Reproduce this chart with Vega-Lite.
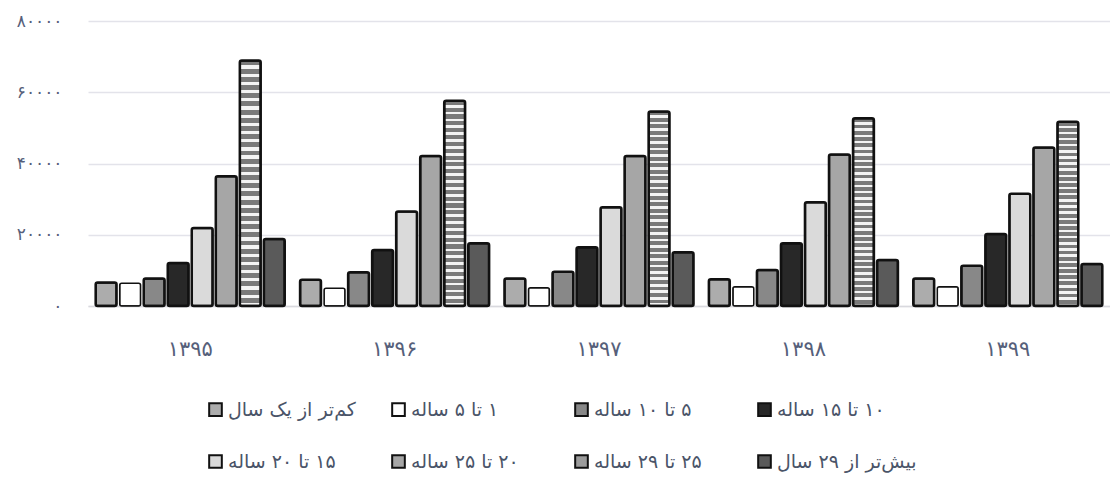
{
  "$schema": "https://vega.github.io/schema/vega-lite/v6.json",
  "autosize": {"type": "none"},
  "padding": {"left": 88, "top": 21, "right": 0, "bottom": 171},
  "width": 1022,
  "height": 285,
  "background": "white",
  "config": {"view": {"stroke": null}, "font": "DejaVu Sans"},
  "data": {"values": [
    {"year": "۱۳۹۵", "cat": "کم‌تر از یک سال", "value": 6600},
    {"year": "۱۳۹۵", "cat": "۱ تا ۵ ساله", "value": 6400},
    {"year": "۱۳۹۵", "cat": "۵ تا ۱۰ ساله", "value": 7700},
    {"year": "۱۳۹۵", "cat": "۱۰ تا ۱۵ ساله", "value": 12100},
    {"year": "۱۳۹۵", "cat": "۱۵ تا ۲۰ ساله", "value": 21900},
    {"year": "۱۳۹۵", "cat": "۲۰ تا ۲۵ ساله", "value": 36400},
    {"year": "۱۳۹۵", "cat": "۲۵ تا ۲۹ ساله", "value": 68900},
    {"year": "۱۳۹۵", "cat": "بیش‌تر از ۲۹ سال", "value": 18800},
    {"year": "۱۳۹۶", "cat": "کم‌تر از یک سال", "value": 7400},
    {"year": "۱۳۹۶", "cat": "۱ تا ۵ ساله", "value": 5000},
    {"year": "۱۳۹۶", "cat": "۵ تا ۱۰ ساله", "value": 9500},
    {"year": "۱۳۹۶", "cat": "۱۰ تا ۱۵ ساله", "value": 15700},
    {"year": "۱۳۹۶", "cat": "۱۵ تا ۲۰ ساله", "value": 26500},
    {"year": "۱۳۹۶", "cat": "۲۰ تا ۲۵ ساله", "value": 42100},
    {"year": "۱۳۹۶", "cat": "۲۵ تا ۲۹ ساله", "value": 57600},
    {"year": "۱۳۹۶", "cat": "بیش‌تر از ۲۹ سال", "value": 17600},
    {"year": "۱۳۹۷", "cat": "کم‌تر از یک سال", "value": 7700},
    {"year": "۱۳۹۷", "cat": "۱ تا ۵ ساله", "value": 5100},
    {"year": "۱۳۹۷", "cat": "۵ تا ۱۰ ساله", "value": 9600},
    {"year": "۱۳۹۷", "cat": "۱۰ تا ۱۵ ساله", "value": 16500},
    {"year": "۱۳۹۷", "cat": "۱۵ تا ۲۰ ساله", "value": 27700},
    {"year": "۱۳۹۷", "cat": "۲۰ تا ۲۵ ساله", "value": 42100},
    {"year": "۱۳۹۷", "cat": "۲۵ تا ۲۹ ساله", "value": 54600},
    {"year": "۱۳۹۷", "cat": "بیش‌تر از ۲۹ سال", "value": 15100},
    {"year": "۱۳۹۸", "cat": "کم‌تر از یک سال", "value": 7500},
    {"year": "۱۳۹۸", "cat": "۱ تا ۵ ساله", "value": 5400},
    {"year": "۱۳۹۸", "cat": "۵ تا ۱۰ ساله", "value": 10100},
    {"year": "۱۳۹۸", "cat": "۱۰ تا ۱۵ ساله", "value": 17600},
    {"year": "۱۳۹۸", "cat": "۱۵ تا ۲۰ ساله", "value": 29100},
    {"year": "۱۳۹۸", "cat": "۲۰ تا ۲۵ ساله", "value": 42500},
    {"year": "۱۳۹۸", "cat": "۲۵ تا ۲۹ ساله", "value": 52700},
    {"year": "۱۳۹۸", "cat": "بیش‌تر از ۲۹ سال", "value": 12900},
    {"year": "۱۳۹۹", "cat": "کم‌تر از یک سال", "value": 7700},
    {"year": "۱۳۹۹", "cat": "۱ تا ۵ ساله", "value": 5400},
    {"year": "۱۳۹۹", "cat": "۵ تا ۱۰ ساله", "value": 11300},
    {"year": "۱۳۹۹", "cat": "۱۰ تا ۱۵ ساله", "value": 20200},
    {"year": "۱۳۹۹", "cat": "۱۵ تا ۲۰ ساله", "value": 31500},
    {"year": "۱۳۹۹", "cat": "۲۰ تا ۲۵ ساله", "value": 44500},
    {"year": "۱۳۹۹", "cat": "۲۵ تا ۲۹ ساله", "value": 51700},
    {"year": "۱۳۹۹", "cat": "بیش‌تر از ۲۹ سال", "value": 11800}
  ]},
  "mark": {"type": "bar", "stroke": "#111111", "cornerRadius": 2},
  "encoding": {
    "x": {
      "field": "year", "type": "nominal",
      "sort": ["۱۳۹۵", "۱۳۹۶", "۱۳۹۷", "۱۳۹۸", "۱۳۹۹"],
      "scale": {"paddingInner": 0.075, "paddingOuter": 0.0375},
      "axis": {"title": null, "ticks": false, "grid": false, "domain": true, "domainColor": "#d9d9de", "domainWidth": 1.5, "labelAngle": 0, "labelPadding": 32, "labelFontSize": 21, "labelColor": "#56607a"}
    },
    "xOffset": {
      "field": "cat", "type": "nominal",
      "sort": ["کم‌تر از یک سال", "۱ تا ۵ ساله", "۵ تا ۱۰ ساله", "۱۰ تا ۱۵ ساله", "۱۵ تا ۲۰ ساله", "۲۰ تا ۲۵ ساله", "۲۵ تا ۲۹ ساله", "بیش‌تر از ۲۹ سال"],
      "scale": {"paddingInner": 0.13, "paddingOuter": 0}
    },
    "y": {
      "field": "value", "type": "quantitative",
      "scale": {"domain": [0, 80000], "nice": false},
      "axis": {
        "title": null, "values": [0, 20000, 40000, 60000, 80000], "domain": false, "ticks": false,
        "labelPadding": 26, "labelFontSize": 17, "labelColor": "#56607a",
        "gridColor": "#e3e3ea", "gridWidth": 1.5,
        "labelExpr": "replace(replace(replace(replace(replace(replace(replace(replace(replace(replace(format(datum.value,'d'),/0/g,'۰'),/1/g,'۱'),/2/g,'۲'),/3/g,'۳'),/4/g,'۴'),/5/g,'۵'),/6/g,'۶'),/7/g,'۷'),/8/g,'۸'),/9/g,'۹')"
      }
    },
    "color": {
      "condition": {
        "test": "datum.cat === '۲۵ تا ۲۹ ساله'",
        "value": {"gradient": "linear", "x1": 0, "y1": 0, "x2": 0, "y2": 1, "stops": [
          {"offset": 0, "color": "#7a7a7a"}, {"offset": 0.02, "color": "#7a7a7a"}, {"offset": 0.02, "color": "#f4f4f4"}, {"offset": 0.0333, "color": "#f4f4f4"},
          {"offset": 0.0333, "color": "#7a7a7a"}, {"offset": 0.0533, "color": "#7a7a7a"}, {"offset": 0.0533, "color": "#f4f4f4"}, {"offset": 0.0667, "color": "#f4f4f4"},
          {"offset": 0.0667, "color": "#7a7a7a"}, {"offset": 0.0867, "color": "#7a7a7a"}, {"offset": 0.0867, "color": "#f4f4f4"}, {"offset": 0.1, "color": "#f4f4f4"},
          {"offset": 0.1, "color": "#7a7a7a"}, {"offset": 0.12, "color": "#7a7a7a"}, {"offset": 0.12, "color": "#f4f4f4"}, {"offset": 0.1333, "color": "#f4f4f4"},
          {"offset": 0.1333, "color": "#7a7a7a"}, {"offset": 0.1533, "color": "#7a7a7a"}, {"offset": 0.1533, "color": "#f4f4f4"}, {"offset": 0.1667, "color": "#f4f4f4"},
          {"offset": 0.1667, "color": "#7a7a7a"}, {"offset": 0.1867, "color": "#7a7a7a"}, {"offset": 0.1867, "color": "#f4f4f4"}, {"offset": 0.2, "color": "#f4f4f4"},
          {"offset": 0.2, "color": "#7a7a7a"}, {"offset": 0.22, "color": "#7a7a7a"}, {"offset": 0.22, "color": "#f4f4f4"}, {"offset": 0.2333, "color": "#f4f4f4"},
          {"offset": 0.2333, "color": "#7a7a7a"}, {"offset": 0.2533, "color": "#7a7a7a"}, {"offset": 0.2533, "color": "#f4f4f4"}, {"offset": 0.2667, "color": "#f4f4f4"},
          {"offset": 0.2667, "color": "#7a7a7a"}, {"offset": 0.2867, "color": "#7a7a7a"}, {"offset": 0.2867, "color": "#f4f4f4"}, {"offset": 0.3, "color": "#f4f4f4"},
          {"offset": 0.3, "color": "#7a7a7a"}, {"offset": 0.32, "color": "#7a7a7a"}, {"offset": 0.32, "color": "#f4f4f4"}, {"offset": 0.3333, "color": "#f4f4f4"},
          {"offset": 0.3333, "color": "#7a7a7a"}, {"offset": 0.3533, "color": "#7a7a7a"}, {"offset": 0.3533, "color": "#f4f4f4"}, {"offset": 0.3667, "color": "#f4f4f4"},
          {"offset": 0.3667, "color": "#7a7a7a"}, {"offset": 0.3867, "color": "#7a7a7a"}, {"offset": 0.3867, "color": "#f4f4f4"}, {"offset": 0.4, "color": "#f4f4f4"},
          {"offset": 0.4, "color": "#7a7a7a"}, {"offset": 0.42, "color": "#7a7a7a"}, {"offset": 0.42, "color": "#f4f4f4"}, {"offset": 0.4333, "color": "#f4f4f4"},
          {"offset": 0.4333, "color": "#7a7a7a"}, {"offset": 0.4533, "color": "#7a7a7a"}, {"offset": 0.4533, "color": "#f4f4f4"}, {"offset": 0.4667, "color": "#f4f4f4"},
          {"offset": 0.4667, "color": "#7a7a7a"}, {"offset": 0.4867, "color": "#7a7a7a"}, {"offset": 0.4867, "color": "#f4f4f4"}, {"offset": 0.5, "color": "#f4f4f4"},
          {"offset": 0.5, "color": "#7a7a7a"}, {"offset": 0.52, "color": "#7a7a7a"}, {"offset": 0.52, "color": "#f4f4f4"}, {"offset": 0.5333, "color": "#f4f4f4"},
          {"offset": 0.5333, "color": "#7a7a7a"}, {"offset": 0.5533, "color": "#7a7a7a"}, {"offset": 0.5533, "color": "#f4f4f4"}, {"offset": 0.5667, "color": "#f4f4f4"},
          {"offset": 0.5667, "color": "#7a7a7a"}, {"offset": 0.5867, "color": "#7a7a7a"}, {"offset": 0.5867, "color": "#f4f4f4"}, {"offset": 0.6, "color": "#f4f4f4"},
          {"offset": 0.6, "color": "#7a7a7a"}, {"offset": 0.62, "color": "#7a7a7a"}, {"offset": 0.62, "color": "#f4f4f4"}, {"offset": 0.6333, "color": "#f4f4f4"},
          {"offset": 0.6333, "color": "#7a7a7a"}, {"offset": 0.6533, "color": "#7a7a7a"}, {"offset": 0.6533, "color": "#f4f4f4"}, {"offset": 0.6667, "color": "#f4f4f4"},
          {"offset": 0.6667, "color": "#7a7a7a"}, {"offset": 0.6867, "color": "#7a7a7a"}, {"offset": 0.6867, "color": "#f4f4f4"}, {"offset": 0.7, "color": "#f4f4f4"},
          {"offset": 0.7, "color": "#7a7a7a"}, {"offset": 0.72, "color": "#7a7a7a"}, {"offset": 0.72, "color": "#f4f4f4"}, {"offset": 0.7333, "color": "#f4f4f4"},
          {"offset": 0.7333, "color": "#7a7a7a"}, {"offset": 0.7533, "color": "#7a7a7a"}, {"offset": 0.7533, "color": "#f4f4f4"}, {"offset": 0.7667, "color": "#f4f4f4"},
          {"offset": 0.7667, "color": "#7a7a7a"}, {"offset": 0.7867, "color": "#7a7a7a"}, {"offset": 0.7867, "color": "#f4f4f4"}, {"offset": 0.8, "color": "#f4f4f4"},
          {"offset": 0.8, "color": "#7a7a7a"}, {"offset": 0.82, "color": "#7a7a7a"}, {"offset": 0.82, "color": "#f4f4f4"}, {"offset": 0.8333, "color": "#f4f4f4"},
          {"offset": 0.8333, "color": "#7a7a7a"}, {"offset": 0.8533, "color": "#7a7a7a"}, {"offset": 0.8533, "color": "#f4f4f4"}, {"offset": 0.8667, "color": "#f4f4f4"},
          {"offset": 0.8667, "color": "#7a7a7a"}, {"offset": 0.8867, "color": "#7a7a7a"}, {"offset": 0.8867, "color": "#f4f4f4"}, {"offset": 0.9, "color": "#f4f4f4"},
          {"offset": 0.9, "color": "#7a7a7a"}, {"offset": 0.92, "color": "#7a7a7a"}, {"offset": 0.92, "color": "#f4f4f4"}, {"offset": 0.9333, "color": "#f4f4f4"},
          {"offset": 0.9333, "color": "#7a7a7a"}, {"offset": 0.9533, "color": "#7a7a7a"}, {"offset": 0.9533, "color": "#f4f4f4"}, {"offset": 0.9667, "color": "#f4f4f4"},
          {"offset": 0.9667, "color": "#7a7a7a"}, {"offset": 0.9867, "color": "#7a7a7a"}, {"offset": 0.9867, "color": "#f4f4f4"}, {"offset": 1, "color": "#f4f4f4"}
        ]}
      },
      "field": "cat", "type": "nominal",
      "sort": ["کم‌تر از یک سال", "۱ تا ۵ ساله", "۵ تا ۱۰ ساله", "۱۰ تا ۱۵ ساله", "۱۵ تا ۲۰ ساله", "۲۰ تا ۲۵ ساله", "۲۵ تا ۲۹ ساله", "بیش‌تر از ۲۹ سال"],
      "scale": {
        "domain": ["کم‌تر از یک سال", "۱ تا ۵ ساله", "۵ تا ۱۰ ساله", "۱۰ تا ۱۵ ساله", "۱۵ تا ۲۰ ساله", "۲۰ تا ۲۵ ساله", "۲۵ تا ۲۹ ساله", "بیش‌تر از ۲۹ سال"],
        "range": ["#acacac", "#ffffff", "#888888", "#282828", "#dadada", "#a6a6a6", "#9c9c9c", "#5a5a5a"]
      },
      "legend": {
        "title": null, "orient": "none", "legendX": 118, "legendY": 379,
        "direction": "horizontal", "columns": 4, "gridAlign": "all",
        "symbolType": "square", "symbolSize": 160, "symbolStrokeColor": "#111111", "symbolStrokeWidth": 2,
        "labelFontSize": 19, "labelColor": "#4a5468", "labelOffset": 3, "labelLimit": 400,
        "columnPadding": 20, "rowPadding": 31,
        "labelExpr": "'\u200f' + datum.label"
      }
    },
    "strokeWidth": {"condition": {"test": "datum.cat === '۱ تا ۵ ساله'", "value": 1.5}, "value": 2.5}
  }
}
